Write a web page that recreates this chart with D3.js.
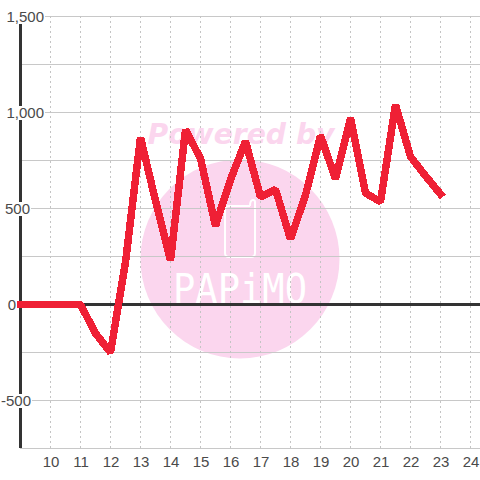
<!DOCTYPE html>
<html><head><meta charset="utf-8"><style>html,body{margin:0;padding:0;background:#fff}svg{display:block}</style>
<script src="https://cdn.jsdelivr.net/npm/d3@7"></script></head><body><div id="c"></div>
<script>
const hours=[9,10,10.5,11,11.5,12,12.5,13,13.5,14,14.5,15,15.5,16,16.5,17,17.5,18,18.5,19,19.5,20,20.5,21,21.5,22,22.5,23];
const values=[0,0,0,0,-150,-250,220,870,540,230,910,760,410,650,850,560,600,340,570,880,655,970,580,535,1040,770,670,575];
const xTicks=[10,11,12,13,14,15,16,17,18,19,20,21,22,23,24];
const yLabelled=[1500,1000,500,0,-500];
const yLabelText=['1,500','1,000','500','0','-500'];
const yLabelEnd=[44,44,30,16,31];
const yGrid=[1500,1250,1000,750,500,250,0,-250,-500,-750];
const W=480,H=480;
const x=d3.scaleLinear().domain([9,24]).range([20.5,470.5]);
const y=d3.scaleLinear().domain([1500,-750]).range([16.5,448.5]);
const svg=d3.select('#c').append('svg').attr('width',W).attr('height',H);
const font='"Liberation Sans",Arial,sans-serif';
// watermark
const wm='#fbd6ee';
svg.append('circle').attr('cx',240).attr('cy',259).attr('r',99.5).attr('fill',wm);
svg.append('text').attr('x',241).attr('y',144).attr('text-anchor','middle').attr('font-family','"DejaVu Sans"').attr('font-weight','bold').attr('font-style','italic').attr('font-size',28).attr('fill',wm).attr('textLength',187).attr('lengthAdjust','spacingAndGlyphs').text('Powered by');
svg.append('path').attr('d','M250,206H229Q225,206 225,210V253Q225,257 229,257H251Q255,257 255,253V202Q255,200 253,200Q250,200 250,206').attr('fill','none').attr('stroke','#fff').attr('stroke-width',2);
svg.append('text').attr('x',240).attr('y',303).attr('text-anchor','middle').attr('font-family','"DejaVu Sans Mono"').attr('font-size',41).attr('fill','#fff').attr('textLength',134).attr('lengthAdjust','spacingAndGlyphs').text('PAPiMO');
// grid
svg.append('g').selectAll('line').data(yGrid).join('line')
 .attr('x1',20).attr('x2',480).attr('y1',d=>y(d)).attr('y2',d=>y(d))
 .attr('stroke','#c8c8c8').attr('stroke-width',1);
svg.append('g').selectAll('line').data(xTicks).join('line')
 .attr('x1',d=>x(d)).attr('x2',d=>x(d)).attr('y1',16).attr('y2',448)
 .attr('stroke','#c4c4c4').attr('stroke-dasharray','2,3');
// axes
svg.append('line').attr('x1',20.5).attr('x2',20.5).attr('y1',16).attr('y2',448).attr('stroke','#333').attr('stroke-width',3);
svg.append('line').attr('x1',20).attr('x2',480).attr('y1',y(0)).attr('y2',y(0)).attr('stroke','#333').attr('stroke-width',3);
// y labels on white plates
const yl=svg.append('g').selectAll('g').data(yLabelled).join('g');
yl.append('rect').attr('x',(d,i)=>yLabelEnd[i]-yLabelText[i].length*7.4-1).attr('y',d=>y(d)-6.5).attr('height',14)
  .attr('width',(d,i)=>yLabelText[i].length*7.4+2).attr('fill','#fff');
yl.append('text').attr('x',(d,i)=>yLabelEnd[i]).attr('y',d=>y(d)+5.5).attr('text-anchor','end').attr('font-family',font).attr('font-size',15).attr('fill','#4a4a4a').text((d,i)=>yLabelText[i]);
// x labels
svg.append('g').selectAll('text').data(xTicks).join('text').attr('x',d=>x(d)+.5).attr('y',467).attr('text-anchor','middle')
 .attr('font-family',font).attr('font-size',15).attr('fill','#4a4a4a').text(d=>d);
// series
svg.append('path').attr('d',d3.line().x((d,i)=>x(hours[i])).y(d=>y(d))(values)).attr('fill','none').attr('stroke','#ef2035').attr('stroke-width',7.5).attr('stroke-linejoin','bevel').attr('stroke-linecap','square').attr('shape-rendering','crispEdges');
</script></body></html>
